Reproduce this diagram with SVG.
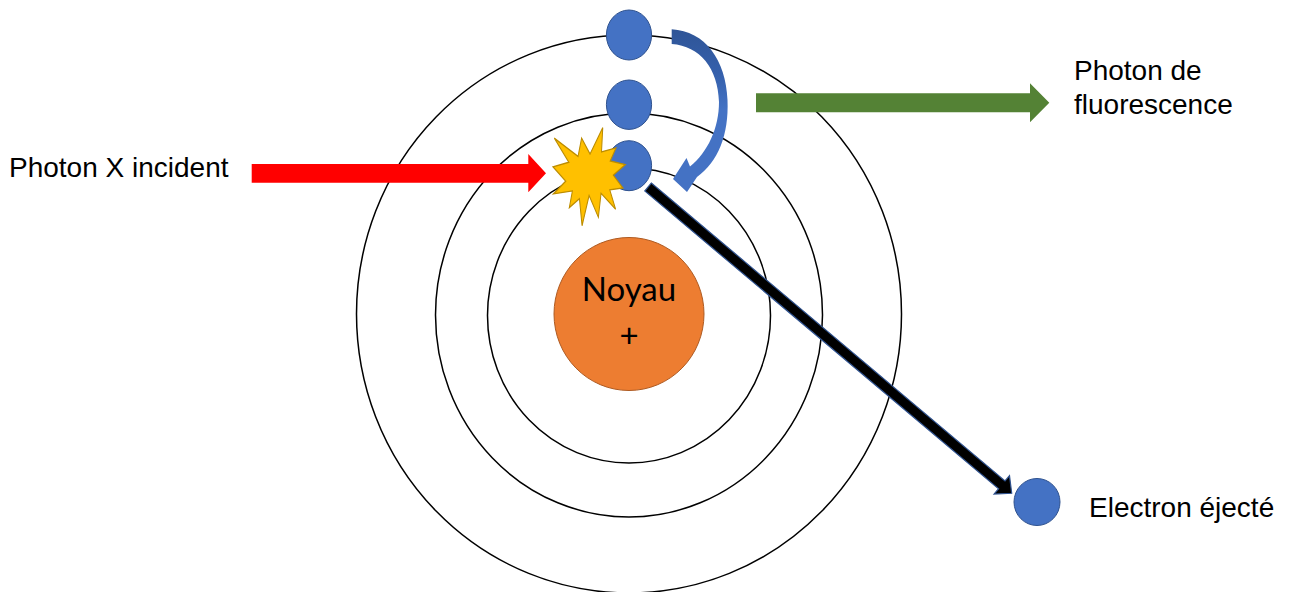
<svg xmlns="http://www.w3.org/2000/svg" width="1292" height="592" viewBox="0 0 1292 592">
  <style>
    .orbit { fill: none; stroke: #000; stroke-width: 1.5; }
    .electron { fill: #4472C4; stroke: #2F528F; stroke-width: 1; }
    .label { font-family: "Liberation Sans", Arial, sans-serif; font-size: 28px; fill: #000; }
    .core { font-family: Lato, "Open Sans", sans-serif; font-size: 33px; fill: #000; text-anchor: middle; }
  </style>
  <defs>
    <linearGradient id="transitionShade" gradientUnits="userSpaceOnUse" x1="0" y1="30" x2="0" y2="110">
      <stop offset="0" stop-color="#2F5597"/>
      <stop offset="0.55" stop-color="#3560AC"/>
      <stop offset="1" stop-color="#4472C4"/>
    </linearGradient>
  </defs>

  <rect width="1292" height="592" fill="#fff"/>

  <!-- electron shells -->
  <g id="shells">
    <ellipse class="orbit" cx="629" cy="314" rx="272.5" ry="279"/>
    <ellipse class="orbit" cx="629" cy="315" rx="193.5" ry="202"/>
    <ellipse class="orbit" cx="629" cy="315.5" rx="141.5" ry="147.5"/>
  </g>

  <!-- nucleus -->
  <g id="nucleus">
    <ellipse cx="629" cy="314" rx="75" ry="76.5" fill="#ED7D31" stroke="#AE5A21" stroke-width="1"/>
    <text class="core" x="629" y="301">Noyau</text>
    <text class="core" x="629" y="347">+</text>
  </g>

  <!-- connectors -->
  <g id="connectors">
    <!-- incident X-ray photon -->
    <polygon id="incident-arrow" points="251.7,164 528.3,164 528.3,154 546,173.3 528.3,192.3 528.3,182.7 251.7,182.7" fill="#FF0000"/>
    <!-- fluorescence photon -->
    <polygon id="fluorescence-arrow" points="756,93.3 1030,93.3 1030,83.3 1049.3,102.8 1030,122.3 1030,112.3 756,112.3" fill="#548235"/>
    <!-- ejected electron path -->
    <polygon id="ejection-arrow" points="651.3,183 1005.0,481.0 1009.5,475.7 1011.7,493.3 994.1,494.1 998.6,488.7 644.8,191" fill="#000" stroke="#2F528F" stroke-width="1.2" stroke-linejoin="miter"/>
    <!-- electron transition from outer to inner shell -->
    <path id="transition-arrow" d="M 671.7,29.3 C 705,31 726,60 727.5,100 C 729,135 718,162 697,177 L 687,192 L 673,179 L 686.5,158 L 690,166.5 C 708,152 719,128 719,102 C 718,68 700,46 671.7,44 Z" fill="url(#transitionShade)"/>
  </g>

  <!-- electrons -->
  <g id="electron-outer">
    <ellipse class="electron" cx="629" cy="35" rx="22.6" ry="25"/>
  </g>
  <g id="electron-middle">
    <ellipse class="electron" cx="629" cy="104.7" rx="22.6" ry="24.7"/>
  </g>
  <g id="electron-inner">
    <ellipse class="electron" cx="629" cy="165.7" rx="22.6" ry="25"/>
  </g>
  <g id="electron-ejected">
    <ellipse class="electron" cx="1037" cy="502" rx="23" ry="23.5"/>
  </g>

  <!-- impact burst -->
  <g id="impact">
    <polygon transform="translate(553,127.7) scale(0.003426,0.004537)" fill="#FFC000" stroke="#BC8C00" stroke-width="300" stroke-linejoin="miter"
      points="10800,5800 14522,0 14155,5325 18380,4457 16702,7315 21097,8137 17607,10475 20400,13290 16577,13712 18270,17963 14020,14457 13247,19737 10532,14935 8485,21600 7715,15627 4762,17617 5667,13937 135,14587 3722,11775 0,8615 4627,7617 370,2295 7312,6320 8352,2295"/>
  </g>

  <!-- labels -->
  <g id="label-incident">
    <text class="label" x="9" y="177">Photon X incident</text>
  </g>
  <g id="label-fluorescence">
    <text class="label" x="1074" y="80">Photon de</text>
    <text class="label" x="1074" y="114">fluorescence</text>
  </g>
  <g id="label-ejected">
    <text class="label" x="1089" y="517">Electron éjecté</text>
  </g>
</svg>
